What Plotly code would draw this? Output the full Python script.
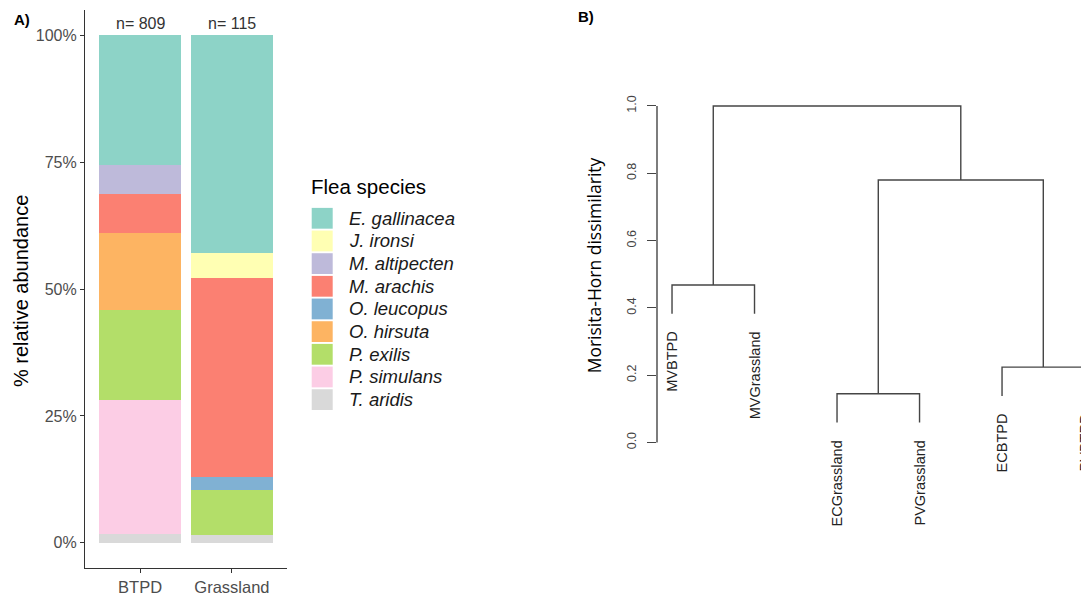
import plotly.graph_objects as go

# ---------------- data ----------------
sites = ["BTPD", "Grassland"]
site_n = [809, 115]

species = ["E. gallinacea", "J. ironsi", "M. altipecten", "M. arachis", "O. leucopus",
           "O. hirsuta", "P. exilis", "P. simulans", "T. aridis"]
species_colors = ["#8DD3C7", "#FFFFB3", "#BEBADA", "#FB8072", "#80B1D3",
                  "#FDB462", "#B3DE69", "#FCCDE5", "#D9D9D9"]
btpd_pct = [25.6, 0.0, 5.7, 7.6, 0.0, 15.3, 17.7, 26.4, 1.7]
grassland_pct = [42.8, 5.1, 0.0, 39.1, 2.6, 0.0, 8.8, 0.0, 1.6]
pct_ticks = [0, 25, 50, 75, 100]

leaf_labels = ["MVBTPD", "MVGrassland", "ECGrassland", "PVGrassland", "ECBTPD", "PVBTPD"]
merge_left = [-1, -3, -5, 2, 1]
merge_right = [-2, -4, -6, 3, 4]
merge_height = [0.468, 0.145, 0.224, 0.780, 1.0]
dissim_ticks = [0.0, 0.2, 0.4, 0.6, 0.8, 1.0]

# ---------------- layout helpers ----------------
W, H = 1081, 596
FONT = "Liberation Sans, Arial, Helvetica, sans-serif"


def px_x(p):
    return p / W


def px_y(p):
    return 1 - p / H


fig = go.Figure()

# ---------------- panel A: stacked bars ----------------
for sp, col, b, g in reversed(list(zip(species, species_colors, btpd_pct, grassland_pct))):
    fig.add_trace(go.Bar(
        x=sites, y=[b, g], name=sp, width=0.9,
        marker=dict(color=col, line=dict(width=0)),
        xaxis="x", yaxis="y", showlegend=False, hoverinfo="name+y"))

# ---------------- panel B: dendrogram ----------------
hang = 0.1 * (max(merge_height) - min(merge_height))
node_x, node_h, leaf_bottom = {}, {}, {}
xs, ys = [], []


def child_pos(c, parent_h):
    if c < 0:
        i = -c
        leaf_bottom[i] = parent_h - hang
        return float(i), parent_h - hang
    return node_x[c], node_h[c]


for k, (l, r, h) in enumerate(zip(merge_left, merge_right, merge_height), start=1):
    xl, yl = child_pos(l, h)
    xr, yr = child_pos(r, h)
    xs += [xl, xl, xr, xr, None]
    ys += [yl, h, h, yr, None]
    node_x[k] = (xl + xr) / 2
    node_h[k] = h

fig.add_trace(go.Scatter(x=xs, y=ys, mode="lines", line=dict(color="#454545", width=1.4),
                         xaxis="x2", yaxis="y2", showlegend=False, hoverinfo="skip"))

x2_range = [0.818, 5.957]

fig.update_layout(
    width=W, height=H, margin=dict(l=0, r=0, t=0, b=0),
    paper_bgcolor="white", plot_bgcolor="white", showlegend=False,
    barmode="stack", font=dict(family=FONT),
    xaxis=dict(domain=[px_x(85), px_x(287)], range=[-0.6, 1.6], type="category",
               showline=True, linecolor="#333333", linewidth=1.2,
               ticks="outside", ticklen=4, tickwidth=1.2, tickcolor="#333333",
               tickfont=dict(family=FONT, size=16.5, color="#4D4D4D"),
               showgrid=False, zeroline=False, anchor="y", fixedrange=True),
    yaxis=dict(domain=[px_y(574), px_y(10)], range=[-5, 105],
               tickvals=pct_ticks, ticktext=[f"{v}%" for v in pct_ticks],
               showline=True, linecolor="#333333", linewidth=1.2,
               ticks="outside", ticklen=4, tickwidth=1.2, tickcolor="#333333",
               tickfont=dict(family=FONT, size=16, color="#4D4D4D"),
               showgrid=False, zeroline=False, anchor="x", fixedrange=True),
    xaxis2=dict(domain=[px_x(657), 1.0], range=x2_range, visible=False,
                anchor="y2", fixedrange=True),
    yaxis2=dict(domain=[px_y(583), px_y(73)], range=[-0.4, 1.1],
                tickvals=dissim_ticks, ticktext=[f"{v:.1f}" for v in dissim_ticks],
                tickangle=-90, ticks="outside", ticklen=9, tickwidth=1.2,
                tickcolor="#454545", ticklabelstandoff=6,
                tickfont=dict(family=FONT, size=12.5, color="#444444"),
                showline=False, showgrid=False, zeroline=False,
                anchor="x2", fixedrange=True),
)

# dendrogram axis line (spans only the tick range, as in base R)
fig.add_shape(type="line", xref="x2 domain", x0=0, x1=0, yref="y2",
              y0=dissim_ticks[0], y1=dissim_ticks[-1],
              line=dict(color="#454545", width=1.4))

# leaf labels
for i, lab in enumerate(leaf_labels, start=1):
    fig.add_annotation(text=lab, xref="x2 domain",
                       x=(i - x2_range[0]) / (x2_range[1] - x2_range[0]),
                       yref="y2", y=leaf_bottom[i], xanchor="center", yanchor="top",
                       yshift=-16, textangle=-90, showarrow=False,
                       font=dict(family=FONT, size=14.5, color="#222222"))

# n labels above bars
for s, n in zip(sites, site_n):
    fig.add_annotation(text=f"n= {n}", xref="x", x=s, yref="y", y=100,
                       xanchor="center", yanchor="bottom", yshift=1, showarrow=False,
                       font=dict(family=FONT, size=16, color="#333333"))

# panel tags
fig.add_annotation(text="<b>A)</b>", xref="paper", x=px_x(12), yref="paper", y=px_y(20),
                   xanchor="left", yanchor="middle", showarrow=False,
                   font=dict(family=FONT, size=15, color="black"))
fig.add_annotation(text="<b>B)</b>", xref="paper", x=px_x(576), yref="paper", y=px_y(17),
                   xanchor="left", yanchor="middle", showarrow=False,
                   font=dict(family=FONT, size=15, color="black"))

# axis titles
fig.add_annotation(text="% relative abundance", xref="paper", x=px_x(21), yref="paper",
                   y=px_y(294), xanchor="center", yanchor="middle", textangle=-90,
                   showarrow=False, font=dict(family=FONT, size=20, color="black"))
fig.add_annotation(text="Morisita-Horn dissimilarity", xref="paper", x=px_x(594),
                   yref="paper", y=px_y(268), xanchor="center", yanchor="middle",
                   textangle=-90, showarrow=False,
                   font=dict(family="Open Sans, sans-serif", size=17.5, color="black"))

# legend (drawn manually to match the large ggplot keys)
fig.add_annotation(text="Flea species", xref="paper", x=px_x(309), yref="paper", y=px_y(188),
                   xanchor="left", yanchor="middle", showarrow=False,
                   font=dict(family=FONT, size=20.5, color="black"))
key_top, key_pitch, key_h = 210, 22.9, 21
for k, (sp, col) in enumerate(zip(species, species_colors)):
    top = key_top + k * key_pitch
    fig.add_shape(type="rect", xref="paper", yref="paper",
                  x0=px_x(311.7), x1=px_x(332.7), y0=px_y(top + key_h), y1=px_y(top),
                  line=dict(width=0), fillcolor=col)
    fig.add_annotation(text=sp, xref="paper", x=px_x(347), yref="paper",
                       y=px_y(top + key_h / 2), xanchor="left", yanchor="middle",
                       showarrow=False,
                       font=dict(family=FONT, size=18.5, color="#1a1a1a", style="italic"))

fig.write_html("out.html", config={"displayModeBar": False})
